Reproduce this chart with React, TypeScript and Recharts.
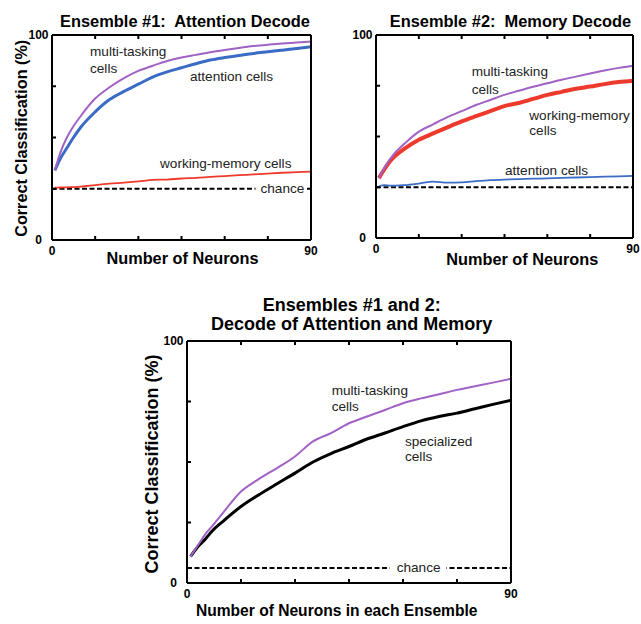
import React from 'react';
import { LineChart, Line, XAxis, YAxis, ReferenceLine } from 'recharts';

// ---------- data ----------
const NEURONS = [1, 3, 5, 7, 10, 15, 20, 25, 30, 35, 40, 45, 50, 55, 60, 65, 70, 75, 80, 85, 90];
const X_TICKS = [0, 15, 30, 45, 60, 75, 90];
const Y_TICKS = [0, 25, 50, 75, 100];
const X_TICK_LABELS: Record<number, string> = { 0: '0', 90: '90' };
const Y_TICK_LABELS: Record<number, string> = { 0: '0', 100: '100' };
const CHANCE_SINGLE = 25;
const CHANCE_JOINT = 6.25;

// Ensemble #1: Attention decode
const E1_MULTI = [34, 43, 49.5, 54.5, 60.5, 69, 74.5, 79, 82.5, 85, 87.3, 89, 90.3, 91.6, 92.7, 93.7, 94.6, 95.3, 95.9, 96.3, 96.8];
const E1_ATTENTION = [34, 40, 44.5, 49, 55, 62.5, 68.5, 72.5, 76, 79.5, 82, 84, 86, 87.8, 89, 90, 91, 91.8, 92.6, 93.4, 94.3];
const E1_MEMORY = [25.5, 25.6, 25.7, 25.8, 26, 26.8, 27.5, 28, 28.6, 29.3, 29.5, 30, 30.3, 30.8, 31.2, 31.6, 32, 32.4, 32.8, 33.1, 33.4];

// Ensemble #2: Memory decode
const E2_MULTI = [29.5, 34.5, 39, 42.5, 46.5, 52.4, 56, 59.5, 62.5, 65.5, 68, 70.5, 72.5, 74.5, 76.2, 78, 79.5, 81, 82.5, 83.8, 84.9];
const E2_MEMORY = [29.5, 34, 38, 40.8, 44, 48.4, 51.5, 54.5, 57.4, 60, 62.5, 65, 66.5, 68.5, 70.5, 72, 73.5, 74.6, 75.8, 76.8, 77.5];
const E2_ATTENTION = [25.4, 26, 25.8, 25.8, 26, 26.8, 27.8, 27.3, 27.4, 28, 28.5, 28.8, 29, 29.2, 29.4, 29.6, 29.8, 30, 30.2, 30.4, 30.6];

// Ensembles #1 and 2: joint decode
const E12_MULTI = [11, 15.5, 20, 23.5, 29, 37.8, 43, 47.5, 52.3, 58.5, 61.9, 66, 68.8, 71.5, 74.3, 76.3, 78, 79.8, 81.3, 82.8, 84.4];
const E12_SPECIALIZED = [11, 15, 18, 21.5, 25.5, 31.6, 36.5, 41, 45.4, 50, 53.5, 56.4, 59.5, 62, 64.6, 67, 68.8, 70.2, 72, 73.8, 75.5];

const data1 = NEURONS.map((n, i) => ({ n, multi: E1_MULTI[i], attention: E1_ATTENTION[i], memory: E1_MEMORY[i] }));
const data2 = NEURONS.map((n, i) => ({ n, multi: E2_MULTI[i], attention: E2_ATTENTION[i], memory: E2_MEMORY[i] }));
const data3 = NEURONS.map((n, i) => ({ n, multi: E12_MULTI[i], specialized: E12_SPECIALIZED[i] }));

// ---------- styles ----------
const FONT = '"Liberation Sans", Arial, Helvetica, sans-serif';
const PURPLE = '#a062c4';
const BLUE = '#3a6cc6';
const RED = '#ee3a2c';
const TICK_LEN = 4;

function BottomTick(props: any) {
  const { x, y, payload } = props;
  const label = X_TICK_LABELS[payload.value];
  return (
    <g>
      <line x1={x} x2={x} y1={y} y2={y - TICK_LEN} stroke="#000" strokeWidth={2} />
      {label !== undefined && (
        <text x={x} y={y + 15} textAnchor="middle" fontSize={12} fontWeight="bold" fontFamily={FONT} fill="#000">
          {label}
        </text>
      )}
    </g>
  );
}
function TopTick(props: any) {
  const { x, y } = props;
  return <line x1={x} x2={x} y1={y} y2={y + TICK_LEN} stroke="#000" strokeWidth={2} />;
}
function LeftTick(props: any) {
  const { x, y, payload } = props;
  const label = Y_TICK_LABELS[payload.value];
  return (
    <g>
      <line x1={x} x2={x + TICK_LEN} y1={y} y2={y} stroke="#000" strokeWidth={2} />
      {label !== undefined && (
        <text x={x - 13.5} y={y + 4.3} textAnchor="middle" fontSize={12} fontWeight="bold" fontFamily={FONT} fill="#000">
          {label}
        </text>
      )}
    </g>
  );
}
function RightTick(props: any) {
  const { x, y } = props;
  return <line x1={x} x2={x - TICK_LEN} y1={y} y2={y} stroke="#000" strokeWidth={2} />;
}

function chanceLabel(fromRight: number, rectLeftPad: number, rectRightPad: number) {
  return (props: any) => {
    const vb = props.viewBox || {};
    const right = vb.x + vb.width;
    const tx = right - fromRight;
    return (
      <g>
        <rect x={tx - rectLeftPad} y={vb.y - 4} width={43.8 + rectLeftPad + rectRightPad} height={8} fill="#fff" />
        <text x={tx} y={vb.y + 4.5} fontSize={13.6} fontFamily={FONT} fill="#222">chance</text>
      </g>
    );
  };
}

// axes have size 1 so they are drawn; margins compensate for that 1px
function frame() {
  return [
    <XAxis key="xb" xAxisId="b" dataKey="n" type="number" domain={[0, 90]} ticks={X_TICKS} interval={0}
      height={1} tickSize={0} tickMargin={0} tick={<BottomTick />} axisLine={{ stroke: '#000', strokeWidth: 2 }} />,
    <XAxis key="xt" xAxisId="t" orientation="top" dataKey="n" type="number" domain={[0, 90]} ticks={X_TICKS} interval={0}
      height={1} tickSize={0} tickMargin={0} tick={<TopTick />} axisLine={{ stroke: '#000', strokeWidth: 2 }} />,
    <YAxis key="yl" yAxisId="l" type="number" domain={[0, 100]} ticks={Y_TICKS} interval={0}
      width={1} tickSize={0} tickMargin={0} tick={<LeftTick />} axisLine={{ stroke: '#000', strokeWidth: 2 }} />,
    <YAxis key="yr" yAxisId="r" orientation="right" type="number" domain={[0, 100]} ticks={Y_TICKS} interval={0}
      width={1} tickSize={0} tickMargin={0} tick={<RightTick />} axisLine={{ stroke: '#000', strokeWidth: 2 }} />,
  ];
}

const txt = { fontFamily: FONT, fill: '#222', fontSize: 13.6 } as const;
const bold = { fontFamily: FONT, fill: '#000', fontWeight: 'bold' } as const;

export default function App() {
  return (
    <div style={{ position: 'absolute', left: 0, top: 0, width: 641, height: 624, background: '#fff', overflow: 'hidden' }}>
      <div style={{ position: 'absolute', left: 0, top: 0 }}>
        <LineChart width={330} height={290} data={data1} margin={{ top: 34, right: 18, bottom: 49, left: 51 }}>
          {frame()}
          <ReferenceLine xAxisId="b" yAxisId="l" y={CHANCE_SINGLE} stroke="#000" strokeWidth={2} strokeDasharray="5 2.5"
            label={chanceLabel(50.5, 5, 2)} />
          <Line xAxisId="b" yAxisId="l" type="monotone" dataKey="memory" stroke={RED} strokeWidth={1.8} dot={false} isAnimationActive={false} />
          <Line xAxisId="b" yAxisId="l" type="monotone" dataKey="attention" stroke={BLUE} strokeWidth={3} dot={false} isAnimationActive={false} />
          <Line xAxisId="b" yAxisId="l" type="monotone" dataKey="multi" stroke={PURPLE} strokeWidth={2} dot={false} isAnimationActive={false} />
        </LineChart>
      </div>
      <div style={{ position: 'absolute', left: 320, top: 0 }}>
        <LineChart width={321} height={290} data={data2} margin={{ top: 34, right: 7, bottom: 51, left: 55 }}>
          {frame()}
          <ReferenceLine xAxisId="b" yAxisId="l" y={CHANCE_SINGLE} stroke="#000" strokeWidth={2} strokeDasharray="5 2.5" />
          <Line xAxisId="b" yAxisId="l" type="monotone" dataKey="attention" stroke={BLUE} strokeWidth={1.8} dot={false} isAnimationActive={false} />
          <Line xAxisId="b" yAxisId="l" type="monotone" dataKey="memory" stroke={RED} strokeWidth={4} dot={false} isAnimationActive={false} />
          <Line xAxisId="b" yAxisId="l" type="monotone" dataKey="multi" stroke={PURPLE} strokeWidth={2} dot={false} isAnimationActive={false} />
        </LineChart>
      </div>
      <div style={{ position: 'absolute', left: 130, top: 290 }}>
        <LineChart width={400} height={334} data={data3} margin={{ top: 50, right: 18, bottom: 40, left: 56 }}>
          {frame()}
          <ReferenceLine xAxisId="b" yAxisId="l" y={CHANCE_JOINT} stroke="#000" strokeWidth={2} strokeDasharray="5 2.5"
            label={chanceLabel(114.3, 7, 6)} />
          <Line xAxisId="b" yAxisId="l" type="monotone" dataKey="specialized" stroke="#000" strokeWidth={3} dot={false} isAnimationActive={false} />
          <Line xAxisId="b" yAxisId="l" type="monotone" dataKey="multi" stroke={PURPLE} strokeWidth={2} dot={false} isAnimationActive={false} />
        </LineChart>
      </div>

      <svg width={641} height={624} style={{ position: 'absolute', left: 0, top: 0, pointerEvents: 'none' }}>
        {/* titles */}
        <text x={185} y={26.5} textAnchor="middle" fontSize={16.4} xmlSpace="preserve" {...bold}>{'Ensemble #1:  Attention Decode'}</text>
        <text x={510.5} y={26.5} textAnchor="middle" fontSize={16.4} xmlSpace="preserve" {...bold}>{'Ensemble #2:  Memory Decode'}</text>
        <text x={351.7} y={310.7} textAnchor="middle" fontSize={18} {...bold}>Ensembles #1 and 2:</text>
        <text x={351.7} y={330} textAnchor="middle" fontSize={18} {...bold}>Decode of Attention and Memory</text>

        {/* axis titles */}
        <text x={182.5} y={263.5} textAnchor="middle" fontSize={16.3} {...bold}>Number of Neurons</text>
        <text x={522.3} y={265} textAnchor="middle" fontSize={16.3} {...bold}>Number of Neurons</text>
        <text x={336.7} y={615.6} textAnchor="middle" fontSize={15.6} {...bold}>Number of Neurons in each Ensemble</text>
        <text transform="translate(27,138.3) rotate(-90)" textAnchor="middle" fontSize={16.2} {...bold}>Correct Classification (%)</text>
        <text transform="translate(157.5,464) rotate(-90)" textAnchor="middle" fontSize={18} {...bold}>Correct Classification (%)</text>

        {/* annotations panel 1 */}
        <text x={90} y={56} {...txt}>multi-tasking</text>
        <text x={90} y={73} {...txt}>cells</text>
        <text x={190} y={81} {...txt}>attention cells</text>
        <text x={160} y={168} {...txt}>working-memory cells</text>

        {/* annotations panel 2 */}
        <text x={471.7} y={76} {...txt}>multi-tasking</text>
        <text x={471.7} y={93.5} {...txt}>cells</text>
        <text x={529.3} y={119.5} {...txt}>working-memory</text>
        <text x={529.3} y={135} {...txt}>cells</text>
        <text x={505} y={174.5} {...txt}>attention cells</text>

        {/* annotations panel 3 */}
        <text x={331.7} y={394.5} {...txt}>multi-tasking</text>
        <text x={331.7} y={411} {...txt}>cells</text>
        <text x={405} y={446} {...txt}>specialized</text>
        <text x={405} y={461} {...txt}>cells</text>
      </svg>
    </div>
  );
}
